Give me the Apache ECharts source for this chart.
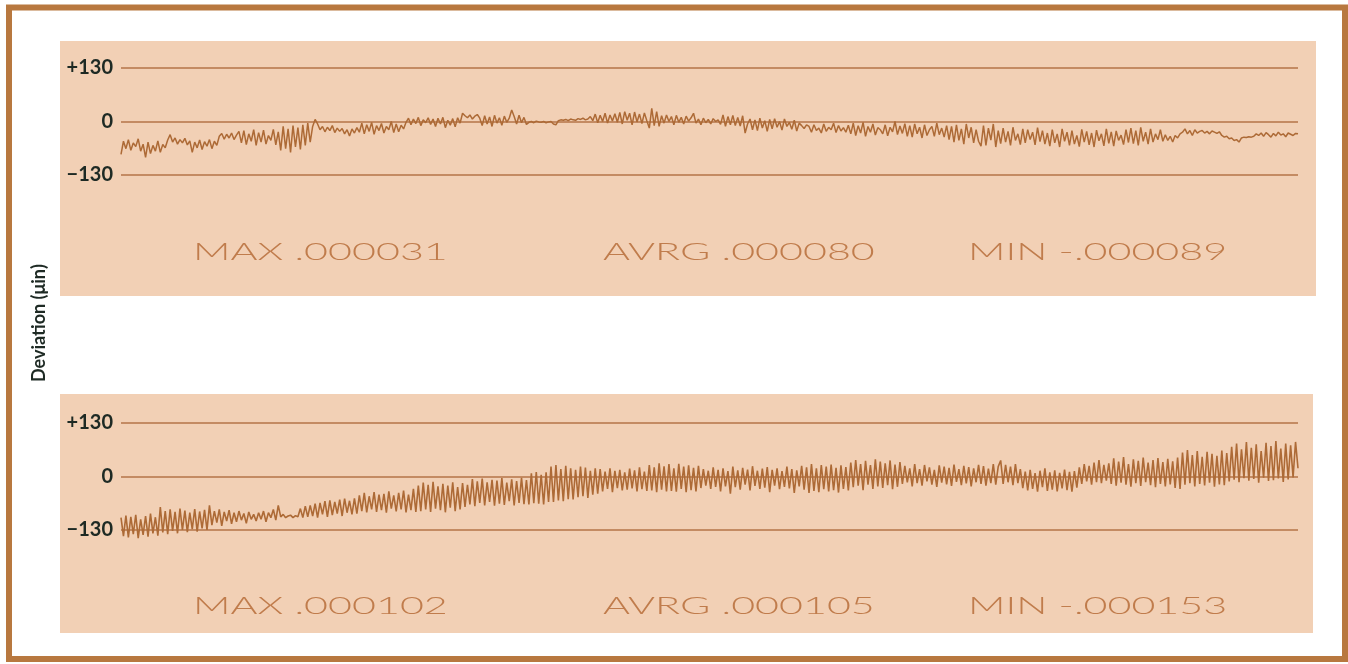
<!DOCTYPE html>
<html><head><meta charset="utf-8">
<script src="https://cdn.jsdelivr.net/npm/echarts@6/dist/echarts.min.js"></script>
<style>html,body{margin:0;padding:0;background:#fff}#c{width:1348px;height:664px}</style>
</head><body><div id="c"></div>
<script>
// Deviation traces (µin), left to right
const topValues = [
-80,-48,-66,-44,-70,-52,-61,-42,-72,-55,
-87,-50,-78,-58,-72,-47,-75,-56,-64,-45,
-32,-50,-40,-55,-44,-52,-41,-57,-47,-75,
-50,-64,-45,-68,-49,-60,-44,-66,-48,-58,
-36,-29,-43,-31,-40,-28,-44,-33,
-24,-52,-22,-56,-30,-48,-20,-58,-27,-50,-21,-55,-34,-46,-19,-57,-25,
-70,-12,-66,-18,-75,-10,-62,-15,-68,
-8,-58,-4,-50,-12,
5,-6,
-20,-12,-25,-14,-22,-10,-27,-16,
-24,-17,-30,-20,-35,-18,-28,-15,
-26,-4,-30,-8,-24,-2,-31,-10,-22,-5,-28,-12,-20,0,-27,-6,-25,-9,-18,
-2,8,-8,6,-5,10,-10,4,-3,9,-7,
6,-12,8,-6,10,-15,3,-9,7,-13,9,-4,
20,
14,9,16,6,13,17,8,
-10,14,-6,11,-12,15,-4,9,-9,13,-2,8,
28,
12,-6,15,-3,10,-7,
-2,0,-3,1,-1,-2,0,-3,-1,0,
-6,-8,2,4,3,5,2,6,4,3,7,5,8,4,6,
12,2,18,-3,15,0,20,-4,16,1,19,
-2,22,-6,24,3,20,-8,23,-1,18,-5,21,2,
-16,32,-10,24,-12,
14,-4,16,0,12,-8,15,-2,10,-6,13,1,9,
20,
-4,6,-8,8,-3,5,-6,7,0,4,-7,
16,-12,12,-8,15,-10,10,-11,14,
-28,
-6,6,-20,4,-22,8,-16,2,-24,5,-18,7,-14,0,-21,6,-12,-2,-19,3,-23,-4,-10,-17,-8,
-12,-26,-8,-22,-16,-28,-6,-24,-14,-20,-4,-27,-10,-23,-15,-26,-9,
-30,-4,-34,-10,-28,-2,-36,-12,-26,-6,-33,-15,-20,-30,-8,-35,-14,-25,0,-32,-11,-29,-5,-36,
-10,-38,-6,-30,-14,-40,-8,-34,-20,-12,-36,-4,-32,-16,-38,-10,
-44,-12,-50,-8,-46,-18,-55,-6,-40,-14,-52,-20,-48,-60,-10,-58,-16,-45,-6,-62,-22,
-54,-16,-50,-24,-58,-14,-46,-30,-56,-18,-52,-20,-44,-26,-57,-15,-49,-22,-55,-28,
-60,-20,-52,-30,-62,-18,-48,-26,-58,-22,-55,-34,-61,-19,-50,-24,-57,-28,-62,-21,-47,-30,-59,-18,-53,-25,-60,-23,-46,-33,-56,-20,-51,
-16,-54,-22,-58,-14,-48,-26,-55,-18,-50,-30,-44,-20,
-48,-32,-46,-36,-50,-34,-40,-30,
-26,-18,-30,-22,-34,-20,-28,-24,
-22,-28,-24,-30,-23,-26,-29,-25,
-34,-38,-36,-42,-40,-46,-44,-50,
-40,-38,-39,-37,-38,-36,
-30,-34,-28,-36,-27,-32,-38,-29,-35,-26,-33,-30,-37,-28,-31,-34,-29,-30
];
const bottomValues = [
-100,-145,-95,-148,-98,-140,-93,-150,-104,-142,-96,-146,-90,-138,-99,-144,
-74,-136,-84,-140,-80,-132,-86,-138,-78,-130,-83,-135,-88,-128,-79,-134,-85,-126,-81,-130,
-70,-118,-84,-112,-80,-120,-86,-108,-82,-115,-88,-110,-84,-106,-90,-114,-86,-104,-92,-108,-88,
-104,-84,-110,-88,-100,-80,-106,-70,-98,-92,-100,-96,-94,-100,-95,-98,
-78,-100,-72,-98,-70,-96,-66,-100,-64,-92,-60,-98,-58,-94,-62,-90,-56,-96,-54,-88,-59,-92,-53,-90,
-46,-84,-40,-87,-48,-80,-38,-86,-44,-82,-42,-88,-36,-78,-46,-85,-40,-80,-34,-87,-44,-82,-30,-86,-22,
-84,-15,-80,-20,-86,-13,-78,-24,-82,-18,-87,-22,-76,-14,-84,-26,-80,-16,-74,-20,
-68,-6,-72,-12,-64,-5,-70,-14,-62,-8,-71,-10,-66,-4,-69,-15,-60,-7,-70,-11,-64,-3,-67,-9,
-68,8,-65,11,-66,4,-68,10,-62,
24,-62,28,-58,18,-60,26,-55,20,-56,16,-50,24,-48,22,-52,14,-44,20,-42,
18,-36,12,-30,20,-38,14,-28,16,-34,10,-32,19,-29,15,-36,22,-31,12,-35,
28,-34,22,-38,32,-32,25,-36,30,-35,20,-37,31,-30,24,-38,27,-33,21,-36,26,
-28,18,-22,14,-30,22,-25,16,-36,20,-24,13,-42,24,-26,15,-32,21,-20,17,-34,25,-23,14,-30,19,-27,23,-38,16,-22,20,-31,13,-25,24,-29,18,-40,15,-24,
26,-32,22,-40,30,-35,20,-38,28,-31,24,-36,29,-33,21,-39,27,-30,23,-34,
34,-26,40,-22,30,-33,38,-20,28,-30,42,-24,36,-28,32,-21,39,-31,29,-25,35,
-18,26,-14,20,-24,30,-16,18,-22,28,-12,22,-20,16,-25,27,-15,24,-19,21,-23,29,-13,18,-21,26,-17,23,-24,20,-14,28,-18,25,-22,19,-16,30,-20,24,
39,-18,28,-14,24,-21,30,-16,
18,-28,12,-34,16,-30,8,-37,14,-26,20,-35,10,-32,15,-36,9,-29,17,-33,11,-37,13,-27,
22,-18,30,-12,26,-20,34,-14,40,-16,28,-10,
32,-18,44,-22,36,-15,47,-20,30,-25,42,-16,38,-23,46,-14,34,-21,40,-26,45,-18,35,-24,43,-19,37,-28,46,
-30,58,-20,64,-16,52,-24,62,-18,48,-22,60,-15,55,-25,50,-19,63,-21,57,
-12,72,-8,80,-14,66,-4,84,-10,70,-6,78,-15,62,-3,82,-11,74,-9,86,-5,68,-13,80,-7,76,-2,84,20
];
const yTicks = [-130, 0, 130];
const yTickLabels = ['\u2212130', '0', '+130'];
const topStats = ['MAX .000031', 'AVRG .000080', 'MIN -.000089'];
const bottomStats = ['MAX .000102', 'AVRG .000105', 'MIN -.000153'];
const yAxisTitle = 'Deviation (\u03bcin)';

const traceColor = '#ad6a36';
const gridColor = '#b47548';
const panelColor = '#f2d0b5';
const statColor = '#c07c4c';
const labelColor = '#1e2a24';

const chart = echarts.init(document.getElementById('c'), null, {renderer: 'canvas'});

function idx(arr) { return arr.map((_, i) => i); }

function yAxisCfg(g) {
  return {
    type: 'value', gridIndex: g, min: -130, max: 130, interval: 130,
    axisLine: {show: false}, axisTick: {show: false},
    splitLine: {show: true, lineStyle: {color: gridColor, width: 1.5}},
    axisLabel: {
      margin: 8, fontFamily: 'Lato', fontWeight: 'bold', fontSize: 20, color: labelColor,
      formatter: v => yTickLabels[yTicks.indexOf(v)]
    }
  };
}
function xAxisCfg(g, arr) {
  return {type: 'category', gridIndex: g, data: idx(arr), boundaryGap: false, show: false};
}
function statTexts(list, cy) {
  const xs = [193, 603, 968];
  return list.map((t, i) => ({
    type: 'text', x: xs[i], y: cy, scaleX: 1.72, z: 10,
    style: {text: t, fill: statColor, font: '300 24px Lato', textVerticalAlign: 'middle', textAlign: 'left'}
  }));
}

chart.setOption({
  animation: false,
  backgroundColor: '#ffffff',
  grid: [
    {left: 121, right: 50, top: 68, bottom: 489},
    {left: 121, right: 50, top: 423, bottom: 134}
  ],
  xAxis: [xAxisCfg(0, topValues), xAxisCfg(1, bottomValues)],
  yAxis: [yAxisCfg(0), yAxisCfg(1)],
  series: [
    {type: 'line', xAxisIndex: 0, yAxisIndex: 0, data: topValues, showSymbol: false, clip: false,
     lineStyle: {color: traceColor, width: 1.5}, z: 5},
    {type: 'line', xAxisIndex: 1, yAxisIndex: 1, data: bottomValues, showSymbol: false, clip: false,
     lineStyle: {color: traceColor, width: 1.6}, z: 5}
  ],
  graphic: [
    {type: 'rect', z: -20, shape: {x: 9, y: 7.5, width: 1336, height: 651.5},
     style: {fill: '#ffffff', stroke: '#b8783f', lineWidth: 6}},
    {type: 'rect', z: -10, shape: {x: 60, y: 41, width: 1256, height: 255}, style: {fill: panelColor}},
    {type: 'rect', z: -10, shape: {x: 60, y: 394, width: 1253, height: 239}, style: {fill: panelColor}},
    {type: 'text', x: 39, y: 323, rotation: Math.PI / 2, z: 10,
     style: {text: yAxisTitle, fill: labelColor, font: 'bold 18px Lato', textAlign: 'center', textVerticalAlign: 'middle'}}
  ].concat(statTexts(topStats, 252), statTexts(bottomStats, 606))
});
</script>
</body></html>
